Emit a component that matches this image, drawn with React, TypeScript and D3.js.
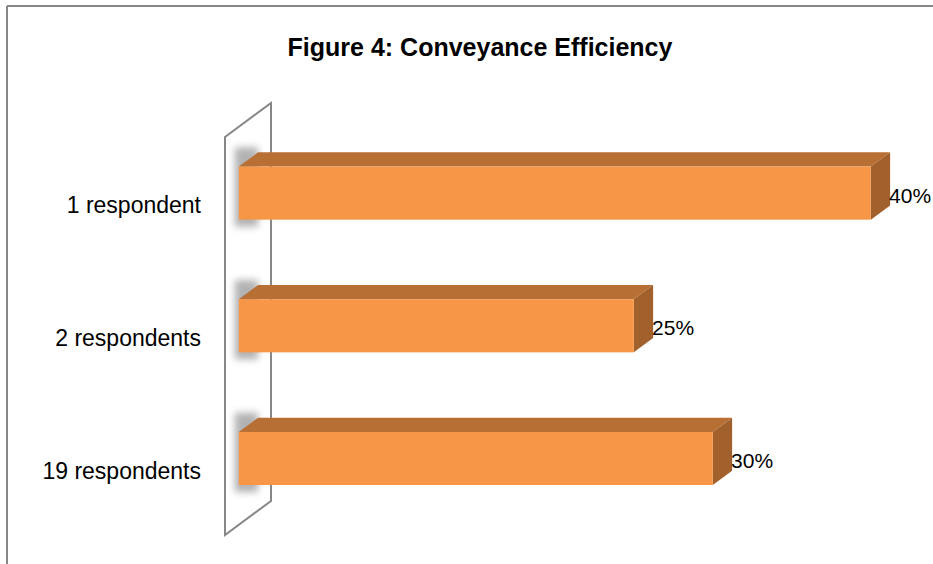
import * as d3 from 'd3';

// chart data
const categories = ['1 respondent', '2 respondents', '19 respondents'];
const values = [0.4, 0.25, 0.3];
const title = 'Figure 4: Conveyance Efficiency';

const W = 933;
const H = 564;

export default function App() {
  // wall plane (front) geometry
  const wallTop = 137;
  const wallBottom = 535;
  const depth = { dx: 46, dy: -34 };
  const zFront = 0.3;
  const zBack = 0.72;

  const x = d3.scaleLinear().domain([0, 0.4]).range([225, 857]);
  const y = d3
    .scaleBand<string>()
    .domain(categories)
    .range([wallTop, wallBottom])
    .paddingInner(0.6)
    .paddingOuter(0.3);

  const fmt = d3.format('.0%');
  const x0 = x(0);

  const wallPath = d3.path();
  wallPath.moveTo(x0, wallTop);
  wallPath.lineTo(x0 + depth.dx, wallTop + depth.dy);
  wallPath.lineTo(x0 + depth.dx, wallBottom + depth.dy);
  wallPath.lineTo(x0, wallBottom);
  wallPath.closePath();

  const bh = y.bandwidth();

  return (
    <svg
      width={W}
      height={H}
      style={{ position: 'absolute', left: 0, top: 0, background: '#fff' }}
      fontFamily="'Liberation Sans', Arial, sans-serif"
    >
      <defs>
        <filter id="blur" x="-50%" y="-50%" width="200%" height="200%">
          <feGaussianBlur stdDeviation="3.5" />
        </filter>
      </defs>

      {/* outer frame */}
      <line x1={7} y1={6} x2={W} y2={6} stroke="#878787" strokeWidth={2} />
      <line x1={7} y1={6} x2={7} y2={H} stroke="#878787" strokeWidth={2} />

      <text
        x={480}
        y={56}
        textAnchor="middle"
        fontWeight="bold"
        fontSize={25}
        fill="#000"
      >
        {title}
      </text>

      {/* back wall */}
      <path d={wallPath.toString()} fill="#fff" stroke="#878787" strokeWidth={2} />

      {categories.map((c, i) => {
        const v = values[i];
        const fx = depth.dx * zFront;
        const fy = depth.dy * zFront;
        const bx = depth.dx * zBack;
        const by = depth.dy * zBack;
        const top = (y(c) ?? 0);
        const fl = x0 + fx;
        const fr = x(v) + fx;
        const ft = top + fy;
        const fb = top + bh + fy;
        const bl = x0 + bx;
        const br = x(v) + bx;
        const bt = top + by;
        const bb = top + bh + by;
        return (
          <g key={c}>
            <rect
              x={fl - 4}
              y={bt - 5}
              width={bl - fl + 4}
              height={fb + 7 - (bt - 5)}
              fill="#808080"
              opacity={0.6}
              filter="url(#blur)"
            />
            <polygon
              points={`${fl},${ft} ${bl},${bt} ${br},${bt} ${fr},${ft}`}
              fill="#B86F34"
            />
            <polygon
              points={`${fr},${ft} ${br},${bt} ${br},${bb} ${fr},${fb}`}
              fill="#A2612C"
            />
            <rect x={fl} y={ft} width={fr - fl} height={fb - ft} fill="#F79646" />
            <text
              x={br - 1}
              y={(ft + fb) / 2 + 2}
              dominantBaseline="central"
              fontSize={21}
              fill="#000"
            >
              {fmt(v)}
            </text>
            <text
              x={201}
              y={top + bh / 2 + 2}
              textAnchor="end"
              dominantBaseline="central"
              fontSize={23}
              fill="#000"
            >
              {c}
            </text>
          </g>
        );
      })}
    </svg>
  );
}
